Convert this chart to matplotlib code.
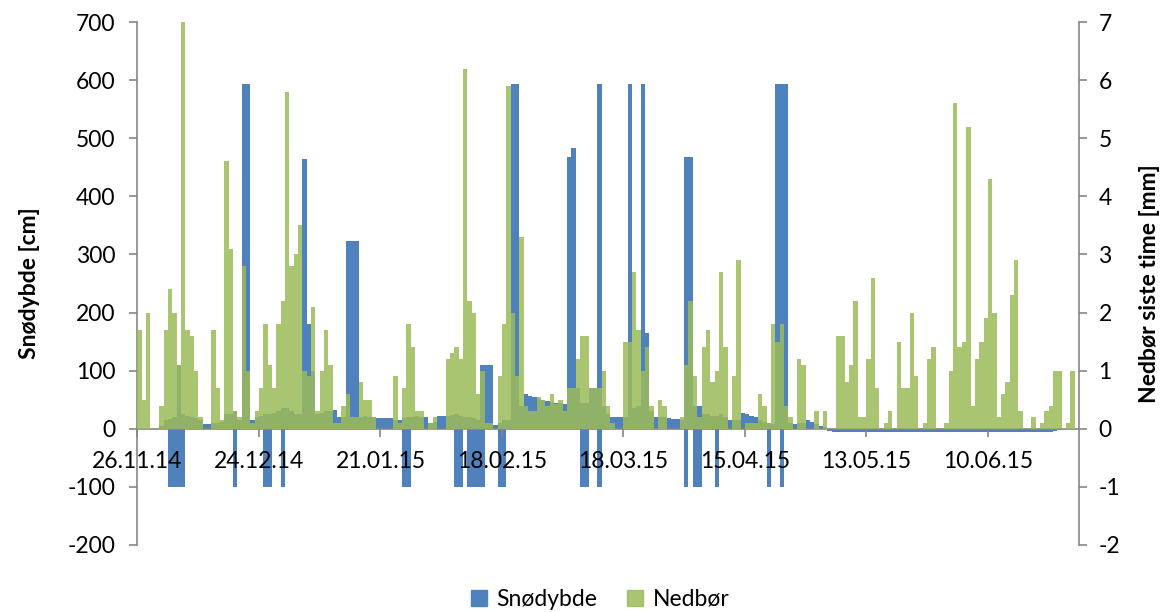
import numpy as np
import pandas as pd
import matplotlib
matplotlib.use('Agg')
import matplotlib.pyplot as plt
import matplotlib.dates as mdates
from matplotlib.patches import Patch

plt.rcParams['font.family'] = ['Lato', 'DejaVu Sans']
plt.rcParams['axes.unicode_minus'] = False

# daily values, 26.11.14 -> 30.06.15
start_date = '2014-11-26'
end_date = '2015-07-01'
tick_dates = ['2014-11-26', '2014-12-24', '2015-01-21', '2015-02-18',
              '2015-03-18', '2015-04-15', '2015-05-13', '2015-06-10']

# Nedbør siste time [mm] (daily max)
precip = [
    1.7, 0.5, 2.0, 0, 0, 0.4, 1.7, 2.4, 2.0, 1.1,
    7.0, 1.7, 1.6, 1.0, 0.2, 0, 0, 1.7, 0.7, 0.15,
    4.6, 3.1, 0.3, 0.2, 2.8, 1.0, 0.1, 0.3, 0.7, 1.8,
    1.1, 0.7, 1.8, 2.2, 5.8, 2.8, 3.0, 3.5, 1.0, 0.9,
    2.1, 0.3, 1.0, 1.7, 1.1, 0.1, 0.1, 0.4, 0.6, 0.2,
    0.2, 0.8, 0.5, 0.5, 0.2, 0, 0, 0, 0, 0.9,
    0.1, 0.7, 1.8, 1.4, 0.3, 0.3, 0, 0.1, 0.2, 0,
    0, 1.2, 1.3, 1.4, 1.2, 6.2, 2.2, 2.0, 0.6, 1.0,
    0.1, 0.1, 0, 0.9, 1.8, 5.9, 2.0, 0.9, 3.3, 0.4,
    0.3, 0.3, 0.55, 0.5, 0.4, 0.6, 0.42, 0.5, 0.3, 0.7,
    0.7, 1.2, 1.6, 1.6, 0.7, 0.7, 0.7, 1.0, 0.4, 0.1,
    0, 0, 1.5, 1.5, 2.7, 1.7, 1.0, 1.4, 0.4, 0,
    0.5, 0.4, 0, 0, 0, 0.2, 1.1, 2.2, 0.9, 0.2,
    1.4, 1.7, 0.8, 1.0, 2.7, 1.4, 0, 0.9, 2.9, 0,
    0.1, 0.1, 0.1, 0.6, 0.4, 0.1, 1.8, 1.5, 1.8, 0.4,
    0.2, 0, 1.2, 1.1, 0, 0, 0.3, 0, 0.3, 0,
    0, 1.6, 1.6, 0.8, 1.1, 2.2, 0.2, 0.2, 1.2, 2.6,
    0.7, 0, 0.1, 0.3, 0, 1.5, 0.7, 0.7, 2.0, 0.9,
    0, 0.1, 1.2, 1.4, 0, 0, 0.1, 1.0, 5.6, 1.4,
    1.5, 5.2, 0.4, 1.2, 1.5, 1.9, 4.3, 2.0, 0.2, 0.6,
    0.8, 2.3, 2.9, 0.3, 0, 0, 0.2, 0, 0.1, 0.3,
    0.4, 1.0, 1.0, 0, 0.1, 1.0, 0,
]

# Snødybde [cm] (daily max)
snow_depth = [
    0, 0, 0, 0, 0, 5, 15, 17, 20, 110,
    25, 22, 20, 18, 15, 8, 8, 10, 10, 12,
    25, 25, 30, 15, 593, 593, 15, 20, 22, 25,
    25, 28, 30, 35, 35, 30, 25, 25, 465, 180,
    100, 25, 28, 30, 30, 33, 20, 20, 323, 323,
    323, 20, 22, 20, 20, 19, 19, 18, 18, 15,
    15, 18, 20, 20, 22, 20, 20, 10, 12, 22,
    22, 22, 24, 25, 22, 20, 20, 18, 15, 110,
    110, 110, 7, 10, 15, 15, 593, 593, 40, 60,
    57, 54, 51, 50, 48, 46, 45, 44, 43, 467,
    484, 70, 45, 45, 70, 70, 593, 40, 25, 20,
    20, 20, 20, 593, 35, 40, 593, 165, 30, 20,
    20, 20, 18, 17, 16, 15, 467, 467, 40, 40,
    25, 25, 22, 22, 25, 20, 15, 15, 15, 27,
    25, 22, 20, 15, 12, 10, 8, 593, 593, 593,
    10, 8, 10, 10, 15, 12, 8, 5, 3, -3,
    -5, -5, -5, -5, -5, -5, -5, -5, -5, -5,
    -5, -5, -5, -5, -5, -5, -5, -5, -5, -5,
    -5, -5, -5, -5, -5, -5, -5, -5, -5, -5,
    -5, -5, -5, -5, -5, -5, -5, -5, -5, -5,
    -5, -5, -5, -5, -5, -5, -5, -5, -5, -5,
    -5, -3, -2, 0, 0, 0, 0,
]

# Snødybde [cm] (daily min, sensor errors)
snow_min = [
    0, 0, 0, 0, 0, 0, 0, -100, -100, -100,
    -100, 0, 0, 0, 0, 0, 0, 0, 0, 0,
    0, 0, -100, 0, 0, 0, 0, 0, 0, -100,
    -100, 0, 0, -100, 0, 0, 0, 0, 0, 0,
    0, 0, 0, 0, 0, 0, 0, 0, 0, 0,
    0, 0, 0, 0, 0, 0, 0, 0, 0, 0,
    0, -100, -100, 0, 0, 0, 0, 0, 0, 0,
    0, 0, 0, -100, -100, 0, -100, -100, -100, -100,
    0, 0, 0, -100, -100, 0, 0, 0, 0, 0,
    0, 0, 0, 0, 0, 0, 0, 0, 0, 0,
    0, 0, -100, -100, 0, 0, -100, 0, 0, 0,
    0, 0, 0, 0, 0, 0, 0, 0, 0, 0,
    0, 0, 0, 0, 0, 0, -100, 0, -100, -100,
    0, 0, 0, -100, 0, 0, 0, 0, 0, 0,
    0, 0, 0, 0, 0, -100, 0, 0, -100, 0,
    0, 0, 0, 0, 0, 0, 0, 0, 0, 0,
    0, 0, 0, 0, 0, 0, 0, 0, 0, 0,
    0, 0, 0, 0, 0, 0, 0, 0, 0, 0,
    0, 0, 0, 0, 0, 0, 0, 0, 0, 0,
    0, 0, 0, 0, 0, 0, 0, 0, 0, 0,
    0, 0, 0, 0, 0, 0, 0, 0, 0, 0,
    0, 0, 0, 0, 0, 0, 0,
]

days = pd.date_range(start_date, periods=len(precip), freq='D')

blue = '#4F81BD'
green = '#9BBB59'
grey = '#868686'

fig = plt.figure(figsize=(11.7, 6.12), dpi=100)
ax = fig.add_axes([0.1175, 0.1095, 0.8047, 0.8545])
ax2 = ax.twinx()

ax.bar(days, snow_depth, width=1, align='edge', color=blue, linewidth=0)
ax.bar(days, snow_min, width=1, align='edge', color=blue, linewidth=0)
ax2.bar(days, precip, width=1, align='edge', color=green, alpha=0.85, linewidth=0)

ax.set_xlim(pd.Timestamp(start_date), pd.Timestamp(end_date))
ax.set_ylim(-200, 700)
ax2.set_ylim(-2, 7)
ax.set_yticks(range(-200, 701, 100))
ax2.set_yticks(range(-2, 8))

ax.set_xticks(pd.to_datetime(tick_dates))
ax.xaxis.set_major_formatter(mdates.DateFormatter('%d.%m.%y'))

for s in ['top', 'right']:
    ax.spines[s].set_visible(False)
for s in ['top', 'left', 'bottom']:
    ax2.spines[s].set_visible(False)
ax.spines['bottom'].set_position(('data', 0))
ax.spines['left'].set_color(grey)
ax.spines['bottom'].set_color(grey)
ax2.spines['right'].set_color(grey)
for sp in [ax.spines['left'], ax.spines['bottom'], ax2.spines['right']]:
    sp.set_linewidth(1.2)

ax.tick_params(axis='y', direction='out', length=6, width=1.2, color=grey,
               labelsize=16.5, pad=10)
ax2.tick_params(axis='y', direction='out', length=6, width=1.2, color=grey,
                labelsize=16.5, pad=8)
ax.tick_params(axis='x', direction='out', length=6, width=1.2, color=grey,
               labelsize=16.5, pad=10)

ax.set_ylabel('Snødybde [cm]', fontsize=16.5, fontweight='bold', labelpad=20)
ax2.set_ylabel('Nedbør siste time [mm]', fontsize=16.5, fontweight='bold', labelpad=14)

handles = [Patch(color=blue), Patch(color=green, alpha=0.85)]
fig.legend(handles, ['Snødybde', 'Nedbør'], loc='center', bbox_to_anchor=(0.513, 0.021),
           ncol=2, frameon=False, fontsize=16.5, handlelength=0.7, handleheight=0.7,
           handletextpad=0.4, columnspacing=1.3)

fig.savefig('out.png', dpi=100)
